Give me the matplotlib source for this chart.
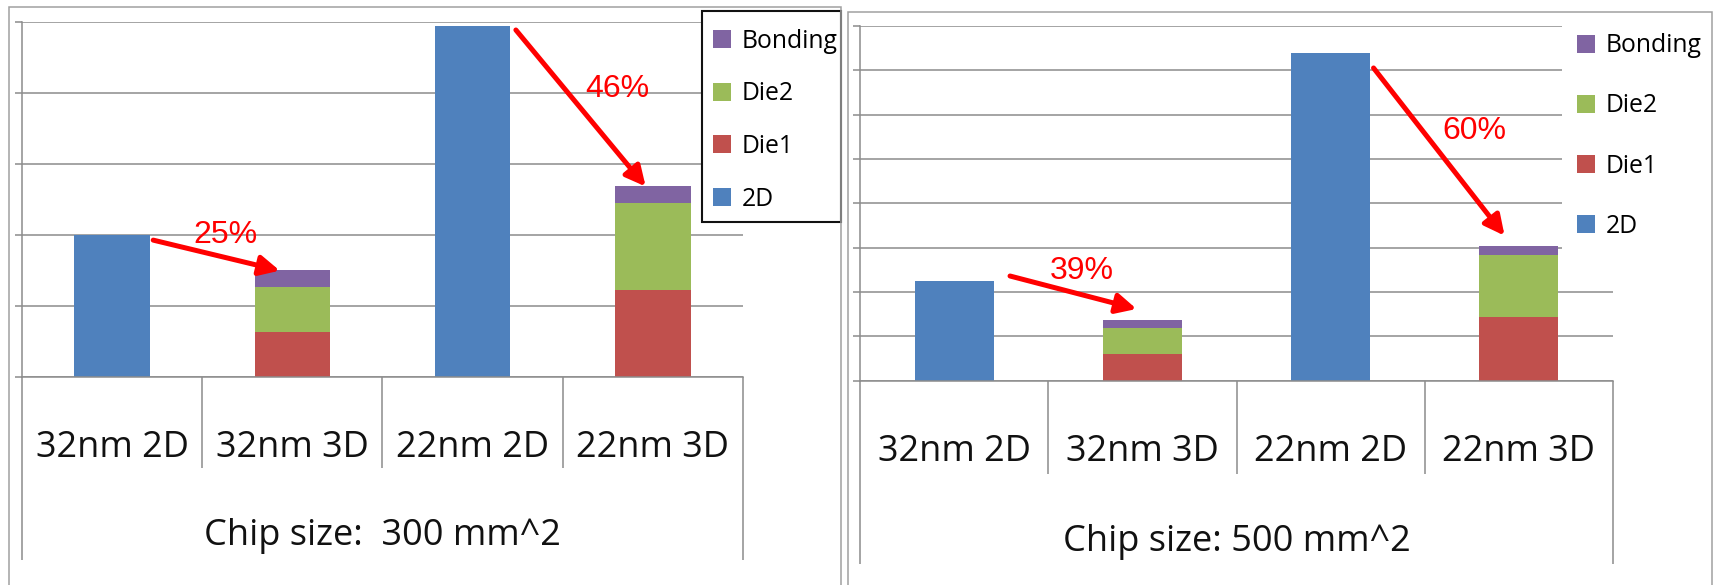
import matplotlib
matplotlib.use("Agg")
import matplotlib.pyplot as plt
from matplotlib.patches import Rectangle, Patch

# ---------------- data ----------------
categories = ["32nm 2D", "32nm 3D", "22nm 2D", "22nm 3D"]
series_names = ["2D", "Die1", "Die2", "Bonding"]

left_2d = [2.0, 0, 4.95, 0]
left_die1 = [0, 0.63, 0, 1.23]
left_die2 = [0, 0.64, 0, 1.23]
left_bond = [0, 0.245, 0, 0.235]
left_title = "Chip size:  300 mm^2"
left_pct = ["25%", "46%"]

right_2d = [2.25, 0, 7.385, 0]
right_die1 = [0, 0.59, 0, 1.43]
right_die2 = [0, 0.59, 0, 1.41]
right_bond = [0, 0.185, 0, 0.195]
right_title = "Chip size: 500 mm^2"
right_pct = ["39%", "60%"]

# annotation geometry (data coords): label (x, y), arrow tail, arrow tip
left_ann = [((0.63, 1.885), (0.228, 1.93), (0.93, 1.50)),
            ((2.80, 3.948), (2.24, 4.893), (2.96, 2.686))]
right_ann = [((0.679, 2.29), (0.297, 2.358), (0.969, 1.614)),
             ((2.762, 5.455), (2.228, 7.053), (2.924, 3.268))]

colors = {"2D": "#4F81BD", "Die1": "#C0504D", "Die2": "#9BBB59", "Bonding": "#8064A2"}
GRID = "#8c8c8c"
W, H = 1714, 585

fig = plt.figure(figsize=(W / 100, H / 100), dpi=100)
fig.patch.set_facecolor("white")


def frect(l, t, r, b):
    return [l / W, 1 - b / H, (r - l) / W, (b - t) / H]


def draw_panel(box, ymax, s2d, s1, s2, sb, title, pcts, anns,
               inner_low, outer_low, lab_y, title_y, leg_kw, leg_box):
    ax = fig.add_axes(frect(*box))
    x = list(range(len(categories)))
    w = 0.42
    ax.bar(x, s2d, w, color=colors["2D"], zorder=2)
    ax.bar(x, s1, w, color=colors["Die1"], zorder=2)
    b2 = [a for a in s1]
    ax.bar(x, s2, w, bottom=b2, color=colors["Die2"], zorder=2)
    b3 = [a + b for a, b in zip(s1, s2)]
    ax.bar(x, sb, w, bottom=b3, color=colors["Bonding"], zorder=2)
    ax.set_xlim(-0.5, len(categories) - 0.5)
    ax.set_ylim(0, ymax)
    ax.set_yticks(range(0, ymax + 1))
    ax.set_yticklabels([])
    ax.set_xticks([])
    ax.tick_params(axis="y", length=5, width=1.1, color=GRID, direction="out")
    ax.grid(axis="y", color=GRID, lw=1.1)
    ax.set_axisbelow(True)
    for s in ["top", "right"]:
        ax.spines[s].set_visible(False)
    for s in ["left", "bottom"]:
        ax.spines[s].set_color(GRID)
        ax.spines[s].set_linewidth(1.1)
    tr = ax.get_xaxis_transform()
    n = len(categories)
    inner = [i + 0.5 for i in range(n - 1)]
    ax.vlines(inner, inner_low, 0, transform=tr, colors=GRID, lw=1.1, clip_on=False)
    ax.vlines([-0.5, n - 0.5], outer_low, 0, transform=tr, colors=GRID, lw=1.1, clip_on=False)
    for i, c in enumerate(categories):
        ax.text(i, lab_y, c, transform=tr, ha="center", va="baseline",
                fontsize=26, family="Open Sans", color="#111111")
    ax.text(0.5, title_y, title, transform=ax.transAxes, ha="center", va="baseline",
            fontsize=26, family="Open Sans", color="#111111")
    for p, (lab, tail, tip) in zip(pcts, anns):
        ax.text(lab[0], lab[1], p, ha="center", va="baseline", fontsize=23,
                family="Liberation Sans", color="#FF0000", zorder=6)
        ax.annotate("", xy=tip, xytext=tail,
                    arrowprops=dict(arrowstyle="-|>,head_length=0.6,head_width=0.3",
                                    lw=3.6, color="#FF0000", shrinkA=0, shrinkB=0,
                                    mutation_scale=20), zorder=6)
    # legend background box
    l, t, r, b, ec = leg_box
    ax.add_patch(Rectangle((l / W, 1 - b / H), (r - l) / W, (b - t) / H,
                           transform=fig.transFigure, facecolor="white",
                           edgecolor=ec, lw=1.5, clip_on=False, zorder=7))
    handles = [Patch(facecolor=colors[s], edgecolor="none") for s in reversed(series_names)]
    leg = ax.legend(handles, list(reversed(series_names)), loc="upper left",
                    bbox_transform=fig.transFigure, borderaxespad=0,
                    prop={"family": "Open Sans", "size": 17.8},
                    handlelength=0.74, handleheight=0.74, handletextpad=0.41,
                    frameon=False, **leg_kw)
    leg.set_zorder(8)
    return ax


draw_panel((22, 22.4, 743, 377), 5, left_2d, left_die1, left_die2, left_bond,
           left_title, left_pct, left_ann, -0.2566, -0.516, -0.2248, -0.4738,
           dict(bbox_to_anchor=(702 / W, 1 - 17.8 / H),
                labelspacing=1.12, borderpad=0.44),
           (702, 11, 841, 222, "#111111"))

draw_panel((860, 26, 1613, 380.5), 8, right_2d, right_die1, right_die2, right_bond,
           right_title, right_pct, right_ann, -0.2626, -0.519, -0.2262, -0.481,
           dict(bbox_to_anchor=(1566 / W, 1 - 22.5 / H),
                labelspacing=1.42, borderpad=0.44),
           (1562, 14, 1711, 258, "none"))

# panel borders
for (l, t, r) in [(9, 7.5, 841), (847.7, 11.7, 1712)]:
    fig.add_artist(Rectangle((l / W, -0.1), (r - l) / W, (1 - t / H) + 0.1,
                             transform=fig.transFigure, fill=False,
                             edgecolor="#a0a0a0", lw=1.1, zorder=20))

fig.savefig("out.png", dpi=100, facecolor="white")
